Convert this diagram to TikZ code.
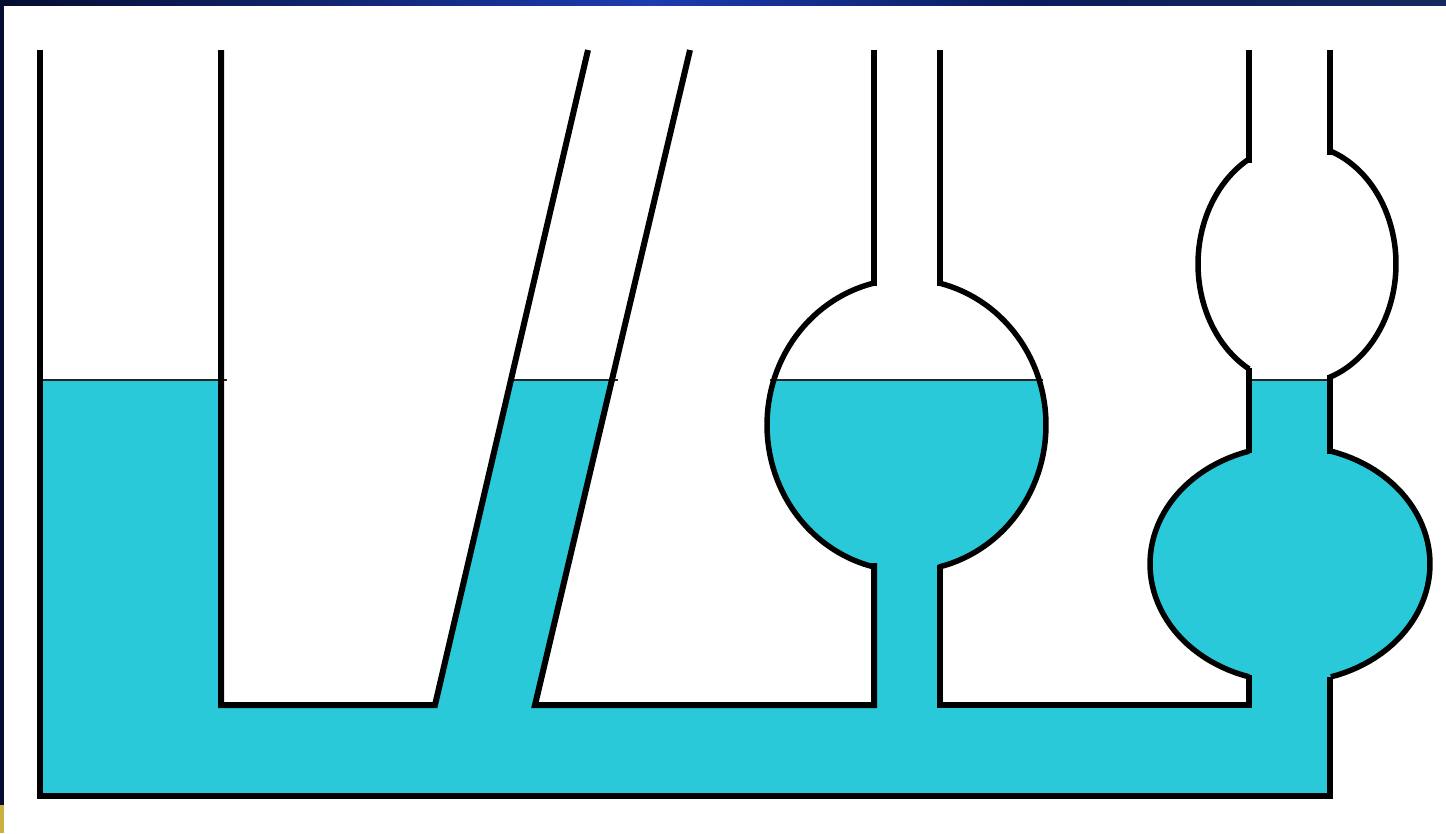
\documentclass[tikz,border=0pt]{standalone}
\definecolor{waterc}{HTML}{29C9D9}
\definecolor{navya}{HTML}{050D30}
\definecolor{navyb}{HTML}{1C3CB0}
\definecolor{navyc}{HTML}{0A1C5C}
\definecolor{navyd}{HTML}{15285F}
\definecolor{goldc}{HTML}{C9B040}
\tikzset{
  wall/.style={draw=black,line width=6pt,line cap=butt,line join=miter},
  bulb/.style={draw=black,line width=5.5pt,line cap=butt},
  level/.style={draw=black!85,line width=2.5pt},
  water/.style={fill=waterc,draw=none}
}
\begin{document}
\begin{tikzpicture}[x=1pt,y=-1pt]
\useasboundingbox (0,0) rectangle (1446,833);
\fill[white] (0,0) rectangle (1446,833);
% frame
\shade[left color=navya,right color=navyb,shading angle=90] (0,0) rectangle (650,5);
\shade[left color=navyb,right color=navyc,shading angle=90] (650,0) rectangle (1030,5);
\shade[left color=navyc,right color=navyd,shading angle=90] (1030,0) rectangle (1446,5);
\fill[navya] (0,0) rectangle (4,833);
\fill[goldc] (0,805) rectangle (4,833);
% water
\path[water] (40,380) -- (221,380) -- (221,705) -- (435,705) -- (511,380) -- (612,380) -- (535,705)
  -- (874,705) -- (874,567)
  -- plot[domain=103.5:197.9,samples=40] ({906.5+139.5*cos(\x)},{425+146*sin(\x)})
  -- plot[domain=-17.9:76.5,samples=40] ({906.5+139.5*cos(\x)},{425+146*sin(\x)})
  -- (940,705) -- (1249,705) -- (1249,678)
  -- plot[domain=107:253,samples=50] ({1290+140*cos(\x)},{564+118*sin(\x)})
  -- (1249,380) -- (1330,380)
  -- plot[domain=-73:73,samples=50] ({1290+140*cos(\x)},{564+118*sin(\x)})
  -- (1330,796) -- (40,796) -- cycle;
% levels
\draw[level] (40,380) -- (227,380);
\draw[level] (510,380) -- (618,380);
\draw[level] (770,380) -- (1043,380);
\draw[level] (1250,380) -- (1330,380);
% straight tube and base
\draw[wall] (40,50) -- (40,796) -- (1330,796) -- (1330,677);
\draw[wall] (221,50) -- (221,705) -- (435,705) -- (588,50);
% slanted tube
\draw[wall] (690,50) -- (535,705) -- (874,705) -- (874,563);
% round bulb tube
\draw[wall] (874,50) -- (874,286);
\draw[wall] (940,50) -- (940,286);
\draw[wall] (940,565) -- (940,705) -- (1249,705) -- (1249,675);
\draw[bulb] plot[domain=103.5:256.5,samples=60] ({906.5+139.5*cos(\x)},{425+146*sin(\x)});
\draw[bulb] plot[domain=-76.5:76.5,samples=60] ({906.5+139.5*cos(\x)},{425+146*sin(\x)});
% double bulb tube
\draw[wall] (1249,50) -- (1249,163);
\draw[wall] (1330,50) -- (1330,155);
\draw[wall] (1249,368) -- (1249,453);
\draw[wall] (1330,375) -- (1330,454);
\draw[bulb] plot[domain=119:241,samples=50] ({1297+99*cos(\x)},{264+120*sin(\x)});
\draw[bulb] plot[domain=-70.5:71,samples=50] ({1297+99*cos(\x)},{264+120*sin(\x)});
\draw[bulb] plot[domain=107:253,samples=50] ({1290+140*cos(\x)},{564+118*sin(\x)});
\draw[bulb] plot[domain=-73:73,samples=50] ({1290+140*cos(\x)},{564+118*sin(\x)});
\end{tikzpicture}
\end{document}
